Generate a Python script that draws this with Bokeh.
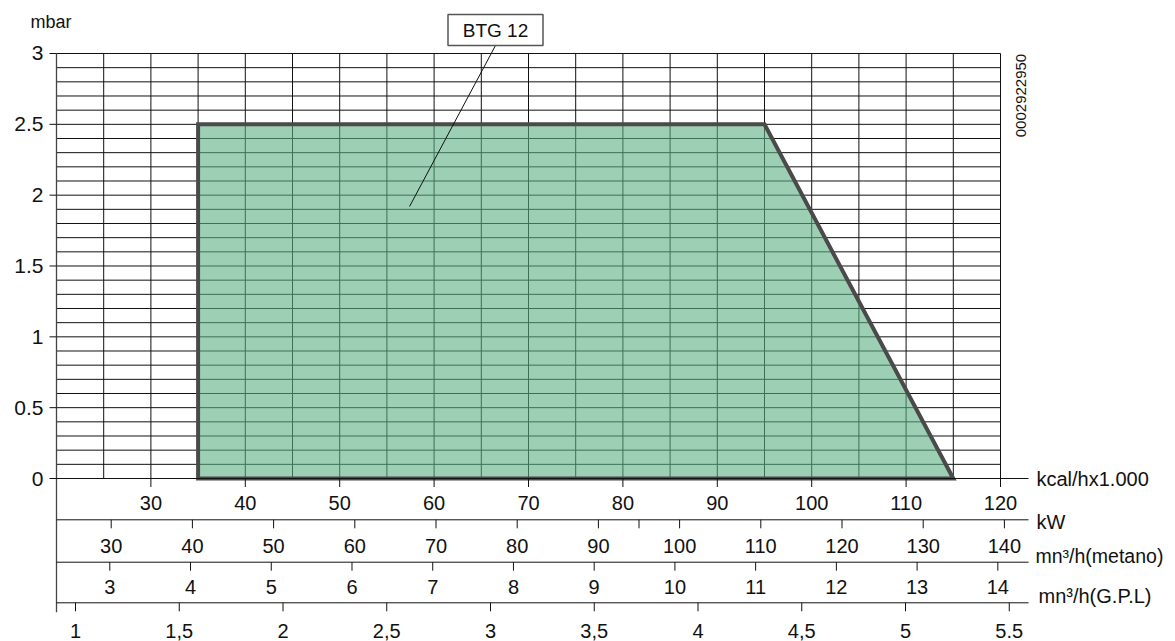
from math import pi
from bokeh.plotting import figure
from bokeh.models import Range1d
from bokeh.core.properties import value
from bokeh.embed import file_html
from bokeh.resources import INLINE

# ---------------- data ----------------
envelope_kcal = [35, 35, 95, 115]
envelope_mbar = [0, 2.5, 2.5, 0]

mbar_ticks = [0, 0.5, 1, 1.5, 2, 2.5, 3]
mbar_labels = ["0", "0.5", "1", "1.5", "2", "2.5", "3"]

kcal_ticks = [30, 40, 50, 60, 70, 80, 90, 100, 110, 120]
kcal_labels = ["30", "40", "50", "60", "70", "80", "90", "100", "110", "120"]

metano_ticks = [30, 40, 50, 60, 70, 80, 90, 95, 100, 110, 120, 130, 140]
metano_labels = ["30", "40", "50", "60", "70", "80", "90", "", "100", "110", "120", "130", "140"]

gpl_ticks = [3, 4, 5, 6, 7, 8, 9, 10, 11, 12, 13, 14]
gpl_labels = ["3", "4", "5", "6", "7", "8", "9", "10", "11", "12", "13", "14"]

m3_ticks = [1, 1.5, 2, 2.5, 3, 3.5, 4, 4.5, 5, 5.5]
m3_labels = ["1", "1,5", "2", "2,5", "3", "3,5", "4", "4,5", "5", "5.5"]

scale_titles = ["kcal/hx1.000", "kW", "mn³/h(metano)", "mn³/h(G.P.L)"]

kcal_grid = [25, 30, 35, 40, 45, 50, 55, 60, 65, 70, 75, 80, 85, 90, 95,
             100, 105, 110, 115, 120]
mbar_grid = [0.1, 0.2, 0.3, 0.4, 0.5, 0.6, 0.7, 0.8, 0.9, 1.0,
             1.1, 1.2, 1.3, 1.4, 1.5, 1.6, 1.7, 1.8, 1.9, 2.0,
             2.1, 2.2, 2.3, 2.4, 2.5, 2.6, 2.7, 2.8, 2.9, 3.0]

unit_label = "mbar"
model_name = "BTG 12"
model_point_kcal = 57.4
model_point_mbar = 1.92
drawing_code = "0002922950"

# ---------------- layout (canvas pixels) ----------------
W, H = 1175, 641
X_LEFT = 56.0           # canvas x of 20 kcal/h (plot left edge)
ZERO_Y = 478.0          # canvas y of 0 mbar
MBAR_PX = 141.667       # px per mbar
KCAL_PX = 9.44          # px per kcal/h x1000
KCAL_MIN, KCAL_MAX, MBAR_MAX = 20, 120, 3
FONT = "Liberation Sans"
INK = "#111111"


def kcal_at(cx):
    return KCAL_MIN + (cx - X_LEFT) / KCAL_PX


def mbar_at(cy):
    return (ZERO_Y - cy) / MBAR_PX


def lin_range(v_ref, cx_ref, px_per_unit):
    start = v_ref - cx_ref / px_per_unit
    return Range1d(start, start + W / px_per_unit)


p = figure(width=W, height=H, output_backend="svg", toolbar_location=None,
           title=None, x_range=Range1d(kcal_at(0), kcal_at(W)),
           y_range=Range1d(mbar_at(H), mbar_at(0)),
           x_axis_location=None, y_axis_location=None,
           min_border=0, min_border_left=0, min_border_right=0,
           min_border_top=0, min_border_bottom=0)
p.outline_line_color = None
p.xgrid.grid_line_color = None
p.ygrid.grid_line_color = None
p.background_fill_color = "white"
p.border_fill_color = "white"

p.extra_x_ranges = {
    "px": Range1d(0, W),
    "metano": lin_range(30, 110.7, 8.12),
    "gpl": lin_range(3, 109.3, 80.73),
    "m3": lin_range(1, 75.0, 207.5),
}
p.extra_y_ranges = {"py": Range1d(H, 0)}

# grid
p.segment(x0=kcal_grid, y0=0, x1=kcal_grid, y1=MBAR_MAX, line_color=INK, line_width=1)
p.segment(x0=KCAL_MIN, y0=mbar_grid, x1=KCAL_MAX, y1=mbar_grid, line_color=INK, line_width=1)

# operating envelope
p.patch(envelope_kcal, envelope_mbar, fill_color="#5aaf82", fill_alpha=0.6,
        line_color="#4a4a4a", line_width=4, line_join="miter")

# y axis (spine, ticks, labels)
SPINE_BOTTOM = 611.7
p.segment(x0=[KCAL_MIN], y0=[mbar_at(SPINE_BOTTOM)], x1=[KCAL_MIN], y1=[MBAR_MAX],
          line_color="#444444", line_width=1.3)
p.segment(x0=[49] * len(mbar_ticks), x1=[X_LEFT] * len(mbar_ticks),
          y0=mbar_ticks, y1=mbar_ticks, x_range_name="px", line_color=INK, line_width=1)
p.text(x=[43] * len(mbar_ticks), y=mbar_ticks, text=mbar_labels, x_range_name="px",
       text_font=value(FONT), text_font_size="21px", text_color=INK,
       text_align="right", text_baseline="middle")
p.text(x=[30], y=[21], text=[unit_label], x_range_name="px", y_range_name="py",
       text_font=value(FONT), text_font_size="18px", text_color=INK,
       text_align="left", text_baseline="middle")

# bottom scale rows
ROW_LINE_Y = [ZERO_Y, 519.3, 561.7, 602.3]
ROW_LABEL_Y = [502.0, 545.0, 586.7, 630.0]
TITLE_Y = [478.0, 521.0, 555.0, 595.5]
TITLE_X = [1036, 1036, 1035, 1038]
TITLE_SIZE = ["20px", "20px", "19.5px", "20px"]
TICK = 8.5
LINE_END = 1028

p.segment(x0=[X_LEFT] * 4, x1=[LINE_END] * 4, y0=ROW_LINE_Y, y1=ROW_LINE_Y,
          x_range_name="px", y_range_name="py", line_color=INK, line_width=1)

rows = [
    (kcal_ticks, kcal_labels, "default"),
    (metano_ticks, metano_labels, "metano"),
    (gpl_ticks, gpl_labels, "gpl"),
    (m3_ticks, m3_labels, "m3"),
]
for i, (ticks, labels, rn) in enumerate(rows):
    ly = ROW_LINE_Y[i]
    p.segment(x0=ticks, x1=ticks, y0=[ly] * len(ticks), y1=[ly + TICK] * len(ticks),
              x_range_name=rn, y_range_name="py", line_color=INK, line_width=1)
    p.text(x=ticks, y=[ROW_LABEL_Y[i]] * len(ticks), text=labels,
           x_range_name=rn, y_range_name="py",
           text_font=value(FONT), text_font_size="20px", text_color=INK,
           text_align="center", text_baseline="middle")

for i, t in enumerate(scale_titles):
    p.text(x=[TITLE_X[i]], y=[TITLE_Y[i]], text=[t],
           x_range_name="px", y_range_name="py",
           text_font=value(FONT), text_font_size=TITLE_SIZE[i],
           text_color=INK, text_align="left", text_baseline="middle")

# model callout
BOX_X, BOX_Y, BOX_W, BOX_H = 495.0, 29.5, 95, 31
p.segment(x0=[kcal_at(BOX_X)], y0=[mbar_at(BOX_Y + BOX_H / 2)],
          x1=[model_point_kcal], y1=[model_point_mbar], line_color=INK, line_width=1)
p.rect(x=[BOX_X], y=[BOX_Y], width=BOX_W, height=BOX_H,
       width_units="screen", height_units="screen",
       x_range_name="px", y_range_name="py",
       fill_color="white", line_color="#555555", line_width=1.5)
p.text(x=[BOX_X], y=[BOX_Y], text=[model_name], x_range_name="px", y_range_name="py",
       text_font=value(FONT), text_font_size="19px", text_color=INK,
       text_align="center", text_baseline="middle")

# drawing code (vertical)
p.text(x=[1020.8], y=[53.3], text=[drawing_code], angle=pi / 2,
       x_range_name="px", y_range_name="py",
       text_font=value(FONT), text_font_size="15px", text_color=INK,
       text_align="right", text_baseline="middle")

open("out.html", "w").write(file_html(p, INLINE))
